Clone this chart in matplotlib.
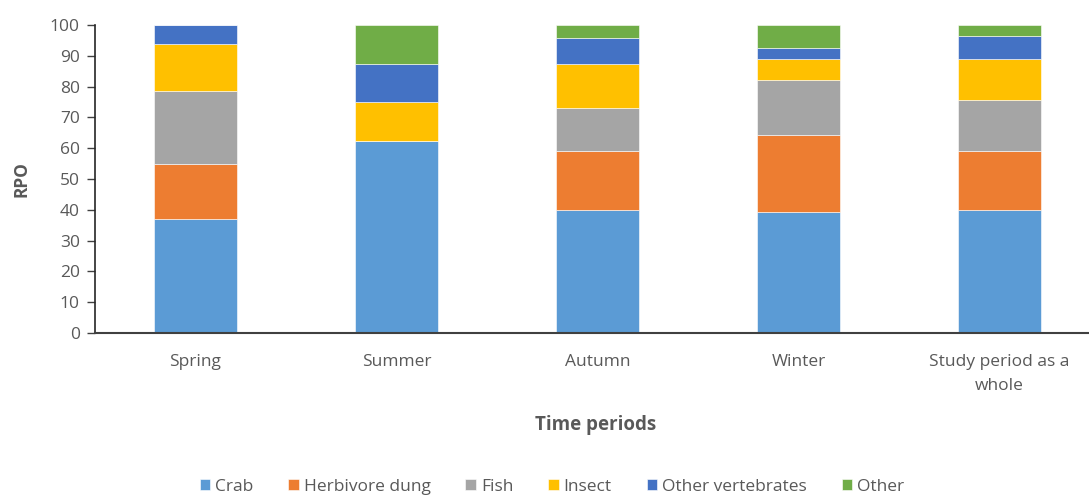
import matplotlib
matplotlib.use("Agg")
import matplotlib.pyplot as plt
import numpy as np

periods = ["Spring", "Summer", "Autumn", "Winter", "Study period as a\nwhole"]
crab = [37.0, 62.4, 40.0, 39.4, 40.0]
herbivore_dung = [17.8, 0.0, 19.0, 24.8, 19.0]
fish = [23.7, 0.0, 14.2, 17.8, 16.5]
insect = [15.3, 12.5, 14.2, 7.0, 13.6]
other_vertebrates = [6.2, 12.4, 8.3, 3.6, 7.2]
other = [0.0, 12.7, 4.4, 7.4, 3.8]

series = [
    ("Crab", crab, "#5B9BD5"),
    ("Herbivore dung", herbivore_dung, "#ED7D31"),
    ("Fish", fish, "#A5A5A5"),
    ("Insect", insect, "#FFC000"),
    ("Other vertebrates", other_vertebrates, "#4472C4"),
    ("Other", other, "#70AD47"),
]

plt.rcParams["font.family"] = ["Open Sans", "DejaVu Sans"]
text_color = "#595959"
fs = 12.5

W, H = 1089, 498
fig = plt.figure(figsize=(W / 100, H / 100), dpi=100)
left, right, top, bottom = 95, 1100, 25, 333
ax = fig.add_axes([left / W, 1 - bottom / H, (right - left) / W, (bottom - top) / H])

x = np.arange(len(periods))
base = np.zeros(len(periods))
handles = []
for name, vals, col in series:
    v = np.array(vals)
    b = ax.bar(x, v, bottom=base, width=0.41, color=col, edgecolor="white",
               linewidth=0.4, label=name)
    handles.append(b)
    base += v

ax.set_xlim(-0.5, len(periods) - 0.5)
ax.set_ylim(0, 100)
ax.set_yticks(np.arange(0, 101, 10))
ax.tick_params(axis="y", direction="out", length=6, width=1, color="#404040",
               labelsize=fs, labelcolor=text_color, pad=5)
ax.set_xticks(x)
ax.set_xticklabels(periods, fontsize=fs, color=text_color, linespacing=1.65)
ax.tick_params(axis="x", length=0, pad=15)

for s in ["top", "right"]:
    ax.spines[s].set_visible(False)
ax.spines["left"].set_color("#262626")
ax.spines["left"].set_linewidth(1.2)
ax.spines["bottom"].set_color("#404040")
ax.spines["bottom"].set_linewidth(1.5)

fig.text(22 / W, 1 - 179 / H, "RPO", rotation=90, ha="center", va="center",
         fontsize=fs, fontweight="bold", color=text_color)
fig.text(596 / W, 1 - 425 / H, "Time periods", ha="center", va="center",
         fontsize=13.5, fontweight="bold", color=text_color)

fig.legend(handles=handles, labels=[s[0] for s in series], loc="center",
           bbox_to_anchor=(552 / W, 1 - 487 / H), ncol=6, frameon=False,
           fontsize=fs, labelcolor=text_color, handlelength=0.6,
           handleheight=0.6, handletextpad=0.3, columnspacing=2.0)

fig.savefig("out.png", dpi=100)
